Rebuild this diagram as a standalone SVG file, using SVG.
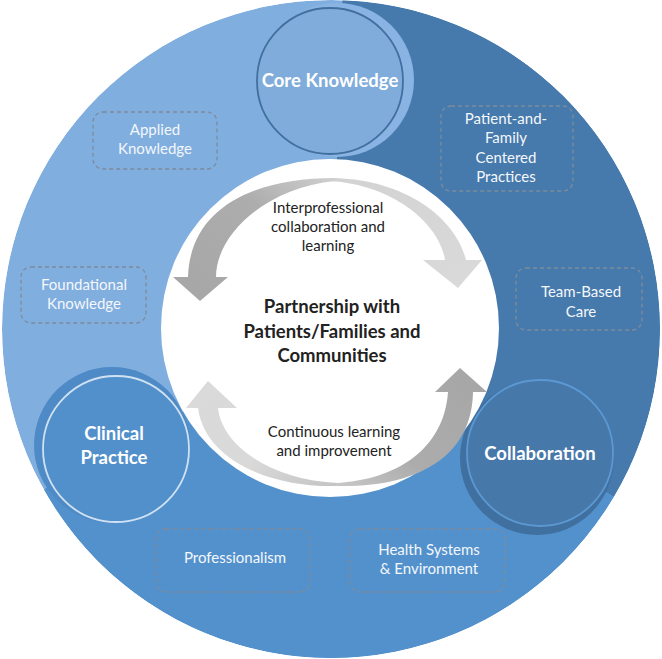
<svg xmlns="http://www.w3.org/2000/svg" width="662" height="659" viewBox="0 0 662 659">
<style>
.box{fill:none;stroke:#7E8B9B;stroke-width:1.3;stroke-dasharray:4 3}
.bt{font-family:Lato,"Liberation Sans",sans-serif;font-size:15px;fill:#F4F7FB;text-anchor:middle}
.nt{font-family:Lato,"Liberation Sans",sans-serif;font-size:18.5px;font-weight:bold;fill:#FFFFFF;text-anchor:middle}
.ct{font-family:Lato,"Liberation Sans",sans-serif;font-size:18.5px;font-weight:bold;fill:#222222;text-anchor:middle}
.it{font-family:Lato,"Liberation Sans",sans-serif;font-size:15px;fill:#222222;text-anchor:middle}
</style>
<defs>
<clipPath id="ring"><circle cx="331" cy="329" r="329"/></clipPath>
<linearGradient id="gTL" x1="1" y1="0" x2="0" y2="1"><stop offset="0" stop-color="#CFCFCF"/><stop offset="0.35" stop-color="#ADADAD"/><stop offset="1" stop-color="#A6A6A6"/></linearGradient>
<linearGradient id="gTR" x1="0" y1="0" x2="1" y2="1"><stop offset="0" stop-color="#D2D2D2"/><stop offset="1" stop-color="#DADADA"/></linearGradient>
<linearGradient id="gBL" x1="1" y1="1" x2="0" y2="0"><stop offset="0" stop-color="#C4C4C4"/><stop offset="0.4" stop-color="#D9D9D9"/><stop offset="1" stop-color="#DADADA"/></linearGradient>
<linearGradient id="gBR" x1="0" y1="1" x2="1" y2="0"><stop offset="0" stop-color="#C8C8C8"/><stop offset="0.35" stop-color="#ACACAC"/><stop offset="1" stop-color="#A6A6A6"/></linearGradient>
</defs>
<rect width="662" height="659" fill="#FFFFFF"/>
<g id="ring-segments" clip-path="url(#ring)">
<circle cx="331" cy="329" r="329" fill="#80AEDF"/>
<path d="M331,329 L342.5,0.2 A329,329 0 0 1 613.9,497 Z" fill="#4679AC"/>
<path d="M331,329 L613.9,497 A329,329 0 0 1 43.8,489.5 Z" fill="#5391CD"/>
<circle cx="337" cy="80" r="77" fill="#88B3E2"/>
<circle cx="112" cy="445" r="78" fill="#4E8AC6"/>
<circle cx="537" cy="458" r="77" fill="#40709F"/>
</g>
<g id="center">
<circle cx="330" cy="328" r="169" fill="#FFFFFF"/>
<text class="ct" x="332" y="313">Partnership with</text>
<text class="ct" x="332" y="338">Patients/Families and</text>
<text class="ct" x="332" y="362">Communities</text>
</g>
<g id="core-knowledge">
<circle cx="330" cy="81" r="73" fill="#7FACDB" stroke="#41709F" stroke-width="1.8"/>
<text class="nt" x="330" y="87">Core Knowledge</text>
</g>
<g id="clinical-practice">
<circle cx="116" cy="449" r="73" fill="#5290CB" stroke="#CFE1F2" stroke-width="1.8"/>
<text class="nt" x="114" y="440">Clinical</text>
<text class="nt" x="114" y="464">Practice</text>
</g>
<g id="collaboration">
<circle cx="540" cy="453" r="73" fill="#4678AA" stroke="#5C99D2" stroke-width="1.8"/>
<text class="nt" x="540" y="460">Collaboration</text>
</g>
<g id="applied-knowledge">
<rect class="box" x="93" y="112" width="124" height="57" rx="10"/>
<text class="bt" x="155" y="135">Applied</text>
<text class="bt" x="155" y="154">Knowledge</text>
</g>
<g id="foundational-knowledge">
<rect class="box" x="21" y="267" width="125" height="56" rx="10"/>
<text class="bt" x="84" y="290">Foundational</text>
<text class="bt" x="84" y="309">Knowledge</text>
</g>
<g id="patient-family">
<rect class="box" x="441" y="106" width="132" height="85" rx="10"/>
<text class="bt" x="506" y="124">Patient-and-</text>
<text class="bt" x="506" y="143">Family</text>
<text class="bt" x="506" y="163">Centered</text>
<text class="bt" x="506" y="182">Practices</text>
</g>
<g id="team-based-care">
<rect class="box" x="516" y="268" width="126" height="62" rx="10"/>
<text class="bt" x="581" y="297">Team-Based</text>
<text class="bt" x="581" y="317">Care</text>
</g>
<g id="professionalism">
<rect class="box" x="156" y="529" width="154" height="63" rx="10"/>
<text class="bt" x="235" y="563">Professionalism</text>
</g>
<g id="health-systems">
<rect class="box" x="350" y="529" width="155" height="63" rx="10"/>
<text class="bt" x="429" y="555">Health Systems</text>
<text class="bt" x="429" y="574">&amp; Environment</text>
</g>
<g id="connectors">
<path d="M445,260 C440,225 395,185 330,181 L330,178 C400,178 455,215 466,260 L482,260 L458,288 L423,260 Z" fill="url(#gTR)"/>
<path d="M335,178 C250,178 190,210 188,277 L173,277 L200,301 L228,277 L216,277 C216,235 265,188 335,181 Z" fill="url(#gTL)"/>
<path d="M338,486 C270,488 205,460 198,408 L186,408 L208,381 L237,408 L218,408 C222,445 270,480 338,483 Z" fill="url(#gBL)"/>
<path d="M336,486 C420,488 472,455 473,392 L487,392 L460,368 L435,392 L448,392 C444,450 395,480 336,483 Z" fill="url(#gBR)"/>
<text class="it" x="328" y="213">Interprofessional</text>
<text class="it" x="328" y="232">collaboration and</text>
<text class="it" x="328" y="251">learning</text>
<text class="it" x="334" y="437">Continuous learning</text>
<text class="it" x="334" y="456">and improvement</text>
</g>
</svg>
